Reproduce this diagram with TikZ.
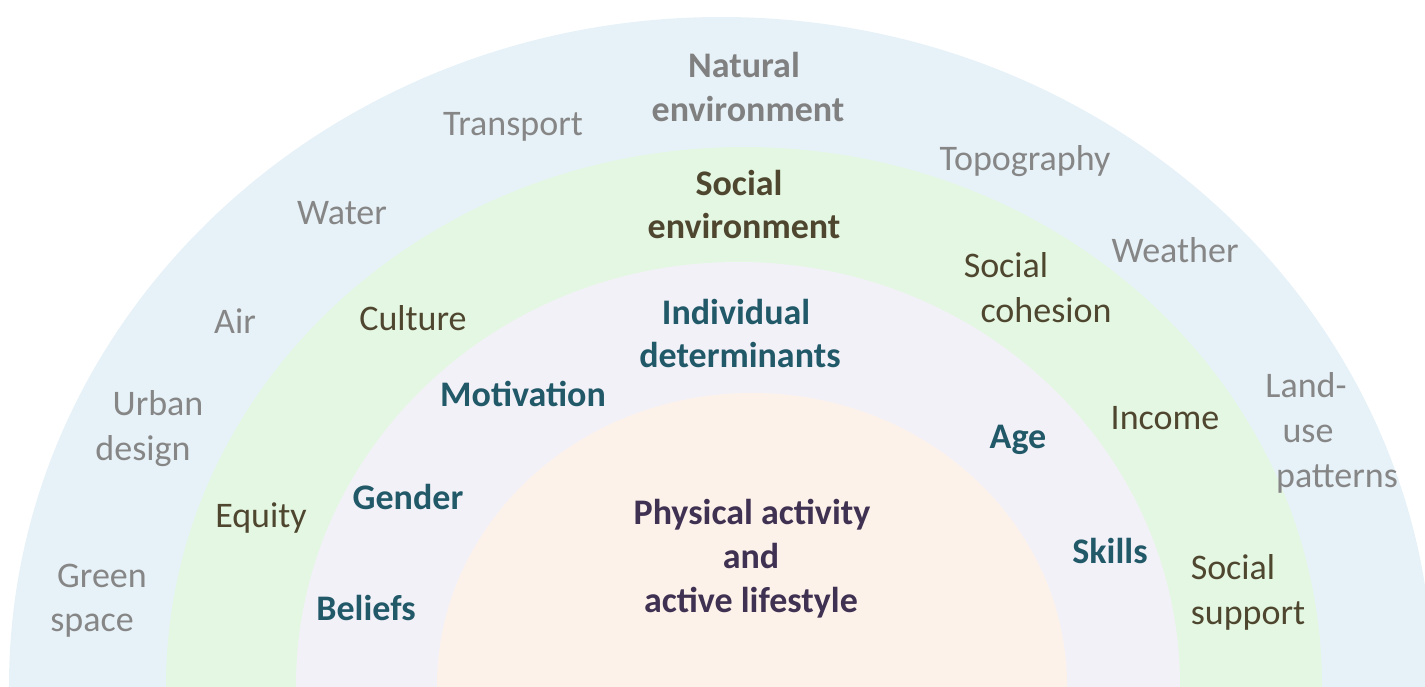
\documentclass[tikz,border=0pt]{standalone}
\usepackage{fontspec}
\setmainfont{Carlito}
\definecolor{bandnat}{RGB}{231,242,248}
\definecolor{bandsoc}{RGB}{228,247,227}
\definecolor{bandind}{RGB}{243,241,248}
\definecolor{bandcore}{RGB}{253,242,234}
\definecolor{natgray}{RGB}{128,128,128}
\definecolor{natitem}{RGB}{134,134,134}
\definecolor{socbrown}{RGB}{78,70,46}
\definecolor{indteal}{RGB}{33,89,104}
\definecolor{corepurple}{RGB}{63,49,81}
\begin{document}
\begin{tikzpicture}[x=0.5pt,y=-0.5pt,
  every node/.style={font=\fontsize{18}{22}\selectfont, inner sep=0pt, anchor=base},
  natitem/.style={text=natitem},
  nathead/.style={text=natgray, font=\fontsize{18}{22}\selectfont\bfseries},
  socitem/.style={text=socbrown},
  sochead/.style={text=socbrown, font=\fontsize{18}{22}\selectfont\bfseries},
  inditem/.style={text=indteal, font=\fontsize{18}{22}\selectfont\bfseries},
  corelabel/.style={text=corepurple, font=\fontsize{18}{22}\selectfont\bfseries}]
\useasboundingbox (0,0) rectangle (1425,686);
\clip (0,0) rectangle (1425,686);
% nested half-ellipse bands
\fill[bandnat]  (721,686) ellipse [x radius=356pt,   y radius=334.5pt];
\fill[bandsoc]  (744,686) ellipse [x radius=289pt,   y radius=269.5pt];
\fill[bandind]  (738,686) ellipse [x radius=221pt,   y radius=212pt];
\fill[bandcore] (752,686) ellipse [x radius=157.5pt, y radius=146.5pt];
% natural environment
\node[nathead] (nat1) at (744,77)  {Natural};
\node[nathead] (nat2) at (748,121) {environment};
\node[natitem] (transport) at (513,135) {Transport};
\node[natitem] (topo)  at (1025,170) {Topography};
\node[natitem] (water) at (342,224) {Water};
\node[natitem] (weather) at (1175,262) {Weather};
\node[natitem] (air) at (235,333) {Air};
\node[natitem] (urban1) at (158,415) {Urban};
\node[natitem] (urban2) at (143,460) {design};
\node[natitem] (land1) at (1306,397) {Land-};
\node[natitem] (land2) at (1308,442) {use};
\node[natitem] (land3) at (1337,487) {patterns};
\node[natitem] (green1) at (102,587) {Green};
\node[natitem] (green2) at (92,631) {space};
% social environment
\node[sochead] (soc1) at (739,195) {Social};
\node[sochead] (soc2) at (744,238) {environment};
\node[socitem] (culture) at (413,330) {Culture};
\node[socitem] (coh1) at (1006,277) {Social};
\node[socitem] (coh2) at (1046,322) {cohesion};
\node[socitem] (income) at (1165,429) {Income};
\node[socitem] (equity) at (261,527) {Equity};
\node[socitem] (sup1) at (1233,579) {Social};
\node[socitem] (sup2) at (1248,624) {support};
% individual determinants
\node[inditem] (ind1) at (736,324) {Individual};
\node[inditem] (ind2) at (740,367) {determinants};
\node[inditem] (motivation) at (523,406) {Motivation};
\node[inditem] (gender) at (408,509) {Gender};
\node[inditem] (beliefs) at (366,620) {Beliefs};
\node[inditem] (age) at (1018,448) {Age};
\node[inditem] (skills) at (1110,563) {Skills};
% core
\node[corelabel] (core1) at (752,524) {Physical activity};
\node[corelabel] (core2) at (751,568) {and};
\node[corelabel] (core3) at (751,612) {active lifestyle};
\end{tikzpicture}
\end{document}
